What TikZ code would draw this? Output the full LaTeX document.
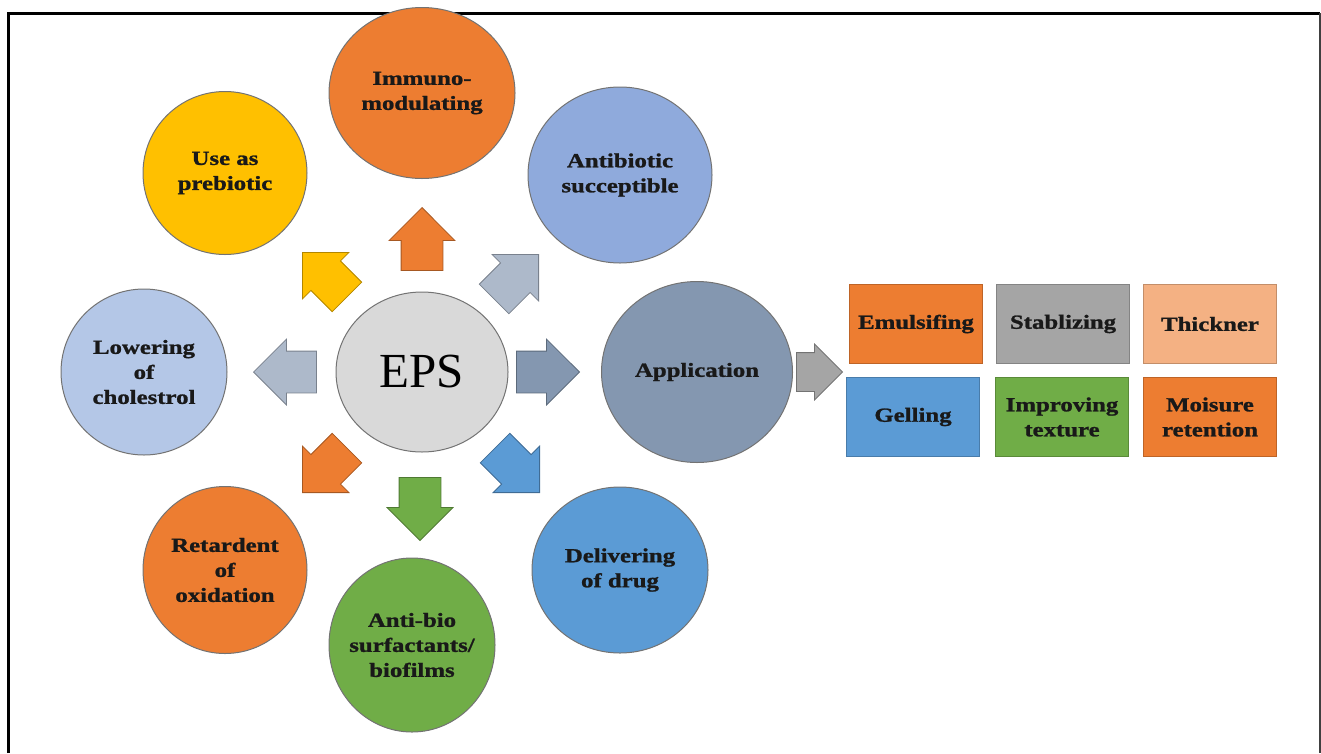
\documentclass[tikz,border=0pt]{standalone}
\usepackage{fontspec}
\setmainfont{Liberation Serif}
\newfontfamily\widefont{Liberation Serif}[FakeStretch=1.24, BoldFeatures={FakeBold=1.2}]
\usetikzlibrary{shapes.geometric,shapes.arrows}

\definecolor{orng}{HTML}{ED7D31}
\definecolor{yel}{HTML}{FFC000}
\definecolor{sky}{HTML}{8FAADC}
\definecolor{pale}{HTML}{B4C7E7}
\definecolor{lgray}{HTML}{D9D9D9}
\definecolor{slate}{HTML}{8497B0}
\definecolor{steel}{HTML}{ADB9CA}
\definecolor{blu}{HTML}{5B9BD5}
\definecolor{grn}{HTML}{70AD47}
\definecolor{mid}{HTML}{A5A5A5}
\definecolor{peach}{HTML}{F4B183}

\begin{document}
\begin{tikzpicture}[
  x=1pt, y=-1pt,
  lbl/.style={font=\widefont\bfseries\fontsize{20}{25}\selectfont, text=black!90},
  bubble/.style={ellipse, draw=black!55, line width=1pt, align=center,
    inner sep=-15pt, lbl},
  blockarrow/.style={single arrow, fill=#1, draw=#1!70!black, line width=0.8pt,
    minimum height=63pt, inner xsep=0pt, inner ysep=20.5pt,
    single arrow head extend=12pt, anchor=tip},
  tile/.style={rectangle, fill=#1, draw=#1!80!black, line width=0.6pt,
    minimum width=133pt, minimum height=79pt, align=center, inner sep=2pt, lbl}
]
\useasboundingbox (0,0) rectangle (1321,753);

% frame
\draw[line width=3pt] (8,753) -- (8,13) -- (1320,13);
\draw[line width=2pt, black!75] (1320,13) -- (1320,753);

% centre and the eight uses round it
\node[ellipse, draw=black!55, line width=1pt, fill=lgray, minimum width=172pt,
  minimum height=160pt, inner sep=0pt, font=\fontsize{49}{49}\selectfont] (eps) at (422,372) {EPS};
\node[bubble, fill=yel, minimum width=164pt, minimum height=163pt] (prebio) at (225,173) {Use as\\prebiotic};
\node[bubble, fill=orng, minimum width=186pt, minimum height=171pt] (immuno) at (422,93) {Immuno-\\modulating};
\node[bubble, fill=sky, minimum width=184pt, minimum height=176pt] (antib) at (620,175) {Antibiotic\\succeptible};
\node[bubble, fill=pale, minimum width=166pt, minimum height=166pt] (chol) at (144,372) {Lowering\\of\\cholestrol};
\node[bubble, fill=slate, minimum width=191pt, minimum height=181pt] (app) at (697,372) {Application};
\node[bubble, fill=blu, minimum width=176pt, minimum height=166pt] (drug) at (620,570) {Delivering\\of drug};
\node[bubble, fill=orng, minimum width=164pt, minimum height=167pt] (oxid) at (225,570) {Retardent\\of\\oxidation};
\node[bubble, fill=grn, minimum width=166pt, minimum height=174pt] (biofilm) at (412,645) {Anti-bio\\surfactants/\\biofilms};

% block arrows, placed by their tips
\node[blockarrow=orng, rotate=90] (aN) at (422,207) {};
\node[blockarrow=yel, rotate=135] (aNW) at (302,252) {};
\node[blockarrow=steel, rotate=45] (aNE) at (539,254) {};
\node[blockarrow=steel, rotate=180] (aW) at (253,372) {};
\node[blockarrow=slate] (aE) at (580,372) {};
\node[blockarrow=orng, rotate=225] (aSW) at (302,493) {};
\node[blockarrow=grn, rotate=270] (aS) at (420,541) {};
\node[blockarrow=blu, rotate=315] (aSE) at (540,493) {};
\node[blockarrow=mid, minimum height=46pt, inner ysep=19pt,
  single arrow head extend=8.5pt] (aApp) at (843,372) {};

% application tiles
\node[tile=orng] (emul) at (916,324) {Emulsifing};
\node[tile=mid] (stab) at (1063,324) {Stablizing};
\node[tile=peach] (thick) at (1210,324) {Thickner};
\node[tile=blu] (gel) at (913,417) {Gelling};
\node[tile=grn] (textr) at (1062,417) {Improving\\texture};
\node[tile=orng] (moist) at (1210,417) {Moisure\\retention};

\end{tikzpicture}
\end{document}
